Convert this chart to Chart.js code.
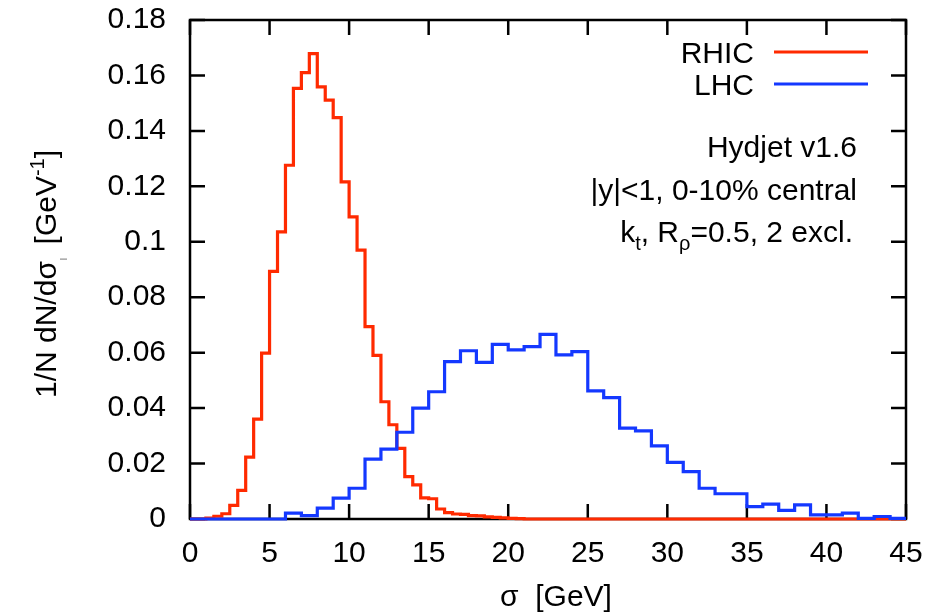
<!DOCTYPE html>
<html>
<head>
<meta charset="utf-8">
<script src="https://cdn.jsdelivr.net/npm/chart.js@4.4.1/dist/chart.umd.min.js"></script>
<style>
  html, body { margin: 0; padding: 0; background: #fff; }
  canvas { display: block; }
</style>
</head>
<body>
<canvas id="sigma-chart" width="945" height="616"></canvas>
<script>
// sigma distributions, 1/N dN/dsigma per bin (bin start = index * bin width)
const rhicBinWidth = 0.5;
const lhcBinWidth = 1;

const rhicValues = [
  0, 0, 0.0003, 0.0010, 0.0019, 0.0049, 0.0103, 0.0223, 0.0360, 0.0598,
  0.0893, 0.1036, 0.1276, 0.1553, 0.1610, 0.1679, 0.1559, 0.1511, 0.1448, 0.1216,
  0.1090, 0.0970, 0.0694, 0.0590, 0.0423, 0.0340, 0.0255, 0.0153, 0.0123, 0.0076,
  0.0073, 0.0036, 0.0023, 0.0018, 0.0017, 0.0012, 0.0011, 0.0008, 0.0006, 0.0004,
  0.0002, 0.0001, 0, 0, 0, 0, 0, 0, 0, 0,
  0, 0, 0, 0, 0, 0, 0, 0, 0, 0,
  0, 0, 0, 0, 0, 0, 0, 0, 0, 0,
  0, 0, 0, 0, 0, 0, 0, 0, 0, 0,
  0, 0, 0, 0, 0, 0, 0, 0, 0, 0
];

const lhcValues = [
  0, 0, 0, 0, 0, 0, 0.0021, 0.0012, 0.0039, 0.0075,
  0.0111, 0.0216, 0.0252, 0.0313, 0.0400, 0.0459, 0.0568, 0.0607, 0.0565, 0.0630,
  0.0610, 0.0622, 0.0666, 0.0592, 0.0604, 0.0462, 0.0438, 0.0328, 0.0318, 0.0264,
  0.0204, 0.0171, 0.0111, 0.0091, 0.0091, 0.0045, 0.0054, 0.0031, 0.0051, 0.0015,
  0.0015, 0.0021, 0.0002, 0.0009, 0.0002
];

const xRange = [0, 45];
const yRange = [0, 0.18];
const xStep = 5;
const yStep = 0.02;

const infoLines = ['Hydjet v1.6', '|y|<1, 0-10% central'];

const FONT = '"Liberation Sans", Arial, Helvetica, sans-serif';
const RED = '#ff2a00';
const BLUE = '#1438ff';

// histogram edges: one point per bin start, plus the closing edge
function toSteps(values, width) {
  const pts = values.map((v, i) => ({ x: i * width, y: v }));
  pts.push({ x: values.length * width, y: values[values.length - 1] });
  return pts;
}

// draw a run of text pieces (sub/superscripts via size + dy)
function richText(ctx, parts, x, y, align) {
  let total = 0;
  parts.forEach(p => {
    ctx.font = p.size + 'px ' + FONT;
    total += ctx.measureText(p.text).width;
  });
  let cx = align === 'right' ? x - total : x;
  parts.forEach(p => {
    ctx.font = p.size + 'px ' + FONT;
    ctx.fillText(p.text, cx, y + (p.dy || 0));
    cx += ctx.measureText(p.text).width;
  });
  return cx;
}

const framePlugin = {
  id: 'frame',
  beforeDatasetsDraw(chart) {
    const { ctx, chartArea: a, scales: { x, y } } = chart;
    const tick = 15;
    ctx.save();
    ctx.strokeStyle = '#000';
    ctx.lineWidth = 2.5;
    ctx.strokeRect(a.left, a.top, a.right - a.left, a.bottom - a.top);
    ctx.beginPath();
    x.ticks.forEach(t => {
      const px = x.getPixelForValue(t.value);
      ctx.moveTo(px, a.bottom); ctx.lineTo(px, a.bottom - tick);
      ctx.moveTo(px, a.top); ctx.lineTo(px, a.top + tick);
    });
    y.ticks.forEach(t => {
      const py = y.getPixelForValue(t.value);
      ctx.moveTo(a.left, py); ctx.lineTo(a.left + tick, py);
      ctx.moveTo(a.right, py); ctx.lineTo(a.right - tick, py);
    });
    ctx.stroke();
    ctx.restore();
  },
  afterDraw(chart) {
    const { ctx } = chart;
    ctx.save();
    ctx.fillStyle = '#000';
    ctx.textBaseline = 'alphabetic';
    ctx.textAlign = 'left';

    // legend: label on the left, line sample on the right
    chart.data.datasets.forEach((ds, i) => {
      const base = 63 + i * 32;
      richText(ctx, [{ text: ds.label, size: 30 }], 754, base, 'right');
      ctx.strokeStyle = ds.borderColor;
      ctx.lineWidth = 3;
      ctx.beginPath();
      ctx.moveTo(774, base - 11);
      ctx.lineTo(868, base - 11);
      ctx.stroke();
    });

    // info block
    richText(ctx, [{ text: infoLines[0], size: 30 }], 857, 157, 'right');
    richText(ctx, [{ text: infoLines[1], size: 30 }], 857, 200, 'right');
    richText(ctx, [
      { text: 'k', size: 30 },
      { text: 't', size: 20, dy: 8 },
      { text: ', R', size: 30 },
      { text: 'ρ', size: 20, dy: 8 },
      { text: '=0.5, 2 excl.', size: 30 }
    ], 853, 242, 'right');

    // x title
    ctx.font = '30px ' + FONT;
    ctx.textAlign = 'center';
    ctx.fillText('σ  [GeV]', 556, 606);
    ctx.textAlign = 'left';

    // y title, rotated
    ctx.translate(56, 398);
    ctx.rotate(-Math.PI / 2);
    const endSigma = richText(ctx, [{ text: '1/N dN/dσ', size: 30 }], 0, 0, 'left');
    ctx.strokeStyle = '#777';
    ctx.lineWidth = 1;
    ctx.beginPath();
    ctx.moveTo(endSigma + 2, 4);
    ctx.lineTo(endSigma + 2, 11);
    ctx.stroke();
    richText(ctx, [
      { text: '  [GeV', size: 30 },
      { text: '-1', size: 20, dy: -12 },
      { text: ']', size: 30 }
    ], endSigma, 0, 'left');
    ctx.restore();
  }
};

const ctx = document.getElementById('sigma-chart');

const chart = new Chart(ctx, {
  type: 'line',
  data: {
    datasets: [{
      label: 'RHIC',
      data: toSteps(rhicValues, rhicBinWidth),
      borderColor: RED,
      borderWidth: 3.2,
      stepped: true,
      pointRadius: 0,
      fill: false,
      clip: false,
      order: 2
    }, {
      label: 'LHC',
      data: toSteps(lhcValues, lhcBinWidth),
      borderColor: BLUE,
      borderWidth: 3.2,
      stepped: true,
      pointRadius: 0,
      fill: false,
      clip: false,
      order: 1
    }]
  },
  options: {
    responsive: false,
    animation: false,
    devicePixelRatio: 1,
    layout: {
      padding: { left: 0, right: 39, top: 20, bottom: 0 }
    },
    scales: {
      x: {
        type: 'linear',
        min: xRange[0],
        max: xRange[1],
        grid: { display: false },
        border: { display: false },
        ticks: {
          stepSize: xStep,
          color: '#000',
          padding: 9,
          maxRotation: 0,
          font: { family: FONT, size: 30 }
        },
        afterFit(scale) { scale.height = 97; }
      },
      y: {
        min: yRange[0],
        max: yRange[1],
        grid: { display: false },
        border: { display: false },
        ticks: {
          stepSize: yStep,
          color: '#000',
          padding: 16,
          font: { family: FONT, size: 30 },
          callback: v => String(+v.toFixed(2))
        },
        afterFit(scale) {
          scale.width = 190;
          // keep the frame top fixed by the layout padding
          scale.paddingTop = 0;
          scale.paddingBottom = 0;
        }
      }
    },
    plugins: {
      legend: { display: false },
      tooltip: { enabled: false }
    }
  },
  plugins: [framePlugin]
});
</script>
</body>
</html>
